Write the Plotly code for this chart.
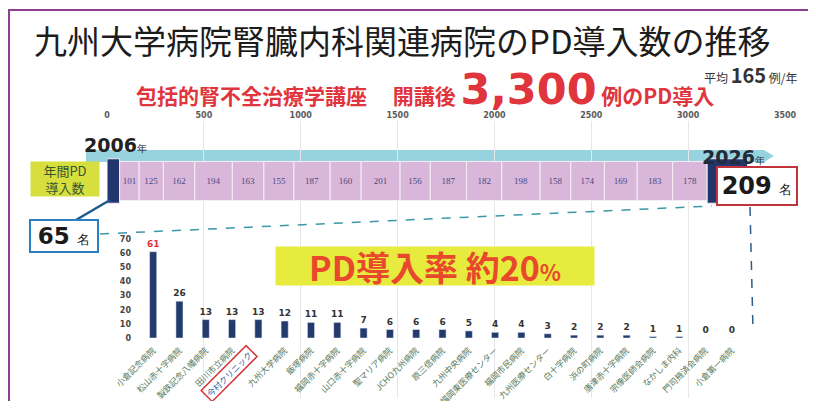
import plotly.graph_objects as go
import numpy as np

# page body has an 8px margin, so the figure is drawn 16px smaller and offset
W, H = 800, 393
OFF = 8
FONT = "Noto Sans CJK JP"

# ---------------- data ----------------
annual_pd = [65, 101, 125, 162, 194, 163, 155, 187, 160, 201, 156, 187, 182, 198, 158, 174, 169, 183, 178, 209]
cum_ticks = [0, 500, 1000, 1500, 2000, 2500, 3000, 3500]

hospitals = ["小倉記念病院", "松山赤十字病院", "製鉄記念八幡病院", "田川市立病院", "今村クリニック",
             "九州大学病院", "飯塚病院", "福岡赤十字病院", "山口赤十字病院", "聖マリア病院",
             "JCHO九州病院", "原三信病院", "九州中央病院", "福岡東医療センター", "福岡市民病院",
             "九州医療センター", "白十字病院", "浜の町病院", "唐津赤十字病院", "宗像医師会病院",
             "なかしま内科", "門司掖済会病院", "小倉第一病院"]
hospital_pd = [61, 26, 13, 13, 13, 12, 11, 11, 7, 6, 6, 6, 5, 4, 4, 3, 2, 2, 2, 1, 1, 0, 0]
hosp_ticks = [0, 10, 20, 30, 40, 50, 60, 70]


def px(x):
    return (x - OFF) / W


def py(y):
    return 1 - (y - OFF) / H


fig = go.Figure()

# --- cumulative horizontal stacked bar ---
bases = list(np.cumsum([0] + annual_pd[:-1]))
n = len(annual_pd)
colors = ["#22366e"] + ["#d9b7da"] * (n - 2) + ["#22366e"]
texts = [""] + [str(v) for v in annual_pd[1:-1]] + [""]
widths = [1.14] + [1.0] * (n - 2) + [1.14]
fig.add_trace(go.Bar(
    x=annual_pd, y=[0] * n, base=bases, orientation="h",
    width=widths,
    marker=dict(color=colors, line=dict(color="#f4eef6", width=1)),
    text=texts, textposition="inside", insidetextanchor="middle",
    textangle=0, constraintext="none",
    textfont=dict(size=9, color="#4a4a7c", family="Liberation Serif"),
    hoverinfo="skip", showlegend=False, xaxis="x", yaxis="y",
))

# --- hospital bar chart ---
txtcol = ["#d9363e"] + ["#333333"] * (len(hospital_pd) - 1)
fig.add_trace(go.Bar(
    x=list(range(len(hospitals))), y=hospital_pd, width=0.27,
    marker=dict(color="#233a6c"),
    text=[str(v) for v in hospital_pd], textposition="outside",
    textangle=0, constraintext="none",
    textfont=dict(size=9, color=txtcol, family="DejaVu Sans", weight="bold"),
    cliponaxis=False, hoverinfo="skip", showlegend=False,
    xaxis="x2", yaxis="y2",
))

ticktext = [h if h != "今村クリニック" else " " for h in hospitals]

fig.update_layout(
    width=W, height=H,
    margin=dict(l=0, r=0, t=0, b=0, autoexpand=False),
    paper_bgcolor="white", plot_bgcolor="rgba(0,0,0,0)",
    barmode="overlay",
    font=dict(family=FONT),
    xaxis=dict(domain=[px(107), px(785)], range=[0, 3500], side="top",
               tickvals=cum_ticks, ticktext=[str(t) for t in cum_ticks],
               tickfont=dict(size=8, color="#5a5a5a", family="DejaVu Sans", weight="bold"),
               showgrid=True, gridcolor="#e6e6e6", gridwidth=1, zeroline=False,
               showline=False, ticks="", anchor="y", automargin=False),
    yaxis=dict(domain=[py(398), py(121)], range=[-5.564, 1.538], visible=False,
               anchor="x", automargin=False),
    xaxis2=dict(domain=[px(140), px(745)], range=[-0.5, len(hospitals) - 0.5],
                tickvals=list(range(len(hospitals))), ticktext=ticktext,
                tickangle=-45, ticklabelstandoff=5,
                tickfont=dict(size=8.5, color="#56785a", family=FONT),
                showgrid=False, zeroline=False, showline=False, ticks="", anchor="y2",
                automargin=False),
    yaxis2=dict(domain=[py(338), py(239)], range=[0, 70],
                tickvals=hosp_ticks, ticklabelstandoff=8,
                tickfont=dict(size=8, color="#444444", family="DejaVu Sans", weight="bold"),
                showgrid=False, zeroline=False, showline=False, ticks="", anchor="x2",
                automargin=False),
)

shapes = []
# slide frame
shapes.append(dict(type="rect", xref="paper", yref="paper",
                   x0=px(9), y0=py(440), x1=px(840), y1=py(10),
                   line=dict(color="#8e3f8f", width=2), layer="below"))
# timeline arrow band
shapes.append(dict(type="path", xref="paper", yref="paper",
                   path=f"M {px(86)} {py(150)} L {px(764)} {py(150)} L {px(774)} {py(156)} "
                        f"L {px(764)} {py(162)} L {px(86)} {py(162)} Z",
                   fillcolor="#97d3df", line=dict(width=0), layer="below"))
# connector from first block to 65 box
shapes.append(dict(type="line", xref="paper", yref="paper",
                   x0=px(110), y0=py(200), x1=px(76), y1=py(220),
                   line=dict(color="#1e5a8a", width=2.5)))
# dashed zoom lines
shapes.append(dict(type="line", xref="paper", yref="paper",
                   x0=px(100), y0=py(234), x1=px(712), y1=py(206),
                   line=dict(color="#3b98a6", width=1.5, dash="dash")))
shapes.append(dict(type="line", xref="paper", yref="paper",
                   x0=px(750), y0=py(207), x1=px(753), y1=py(330),
                   line=dict(color="#2d5d88", width=1.5, dash="dash")))
fig.update_layout(shapes=shapes)

ann = []
# title
ann.append(dict(xref="paper", yref="paper", x=px(402), y=py(40), xanchor="center", yanchor="middle",
                text="九州大学病院腎臓内科関連病院のPD導入数の推移", showarrow=False,
                font=dict(size=33, color="#1c1c1c", family=FONT)))
# average
ann.append(dict(xref="paper", yref="paper", x=px(800), y=py(74), xanchor="right", yanchor="middle",
                text="平均 <b><span style='font-size:20px'>165</span></b> 例/年", showarrow=False,
                font=dict(size=12, color="#333333", family=FONT)))
# red subtitle
ann.append(dict(xref="paper", yref="paper", x=px(425), y=py(89), xanchor="center", yanchor="middle",
                text="<b>包括的腎不全治療学講座 　開講後 <span style='font-size:43px;font-family:DejaVu Sans'>3,300</span> 例のPD導入</b>",
                showarrow=False, font=dict(size=21, color="#e0353d", family=FONT)))
# year labels
ann.append(dict(xref="paper", yref="paper", x=px(82), y=py(145), xanchor="left", yanchor="middle",
                text="<b>2006</b><span style='font-size:10px'>年</span>", showarrow=False,
                font=dict(size=19, color="#222222", family="DejaVu Sans")))
ann.append(dict(xref="paper", yref="paper", x=px(700), y=py(157), xanchor="left", yanchor="middle",
                text="<b>2026</b><span style='font-size:10px'>年</span>", showarrow=False,
                font=dict(size=19, color="#222a3a", family="DejaVu Sans")))
# annual PD label box
ann.append(dict(xref="paper", yref="paper", x=px(65), y=py(179), xanchor="center", yanchor="middle",
                text="年間PD<br>導入数", showarrow=False, width=68, height=34,
                bgcolor="#d6df3e", borderpad=0, align="center",
                font=dict(size=13, color="#3a5430", family=FONT)))
# 65 box
ann.append(dict(xref="paper", yref="paper", x=px(64), y=py(236), xanchor="center", yanchor="middle",
                text="<b>65</b> <span style='font-size:13px'>名</span>", showarrow=False,
                width=66, height=30, bgcolor="white", bordercolor="#2b7fc0", borderwidth=2, borderpad=0,
                font=dict(size=23, color="#1a1a1a", family="DejaVu Sans")))
# 209 box
ann.append(dict(xref="paper", yref="paper", x=px(757), y=py(186), xanchor="center", yanchor="middle",
                text="<b>209</b> <span style='font-size:13px'>名</span>", showarrow=False,
                width=78, height=36, bgcolor="white", bordercolor="#c2333b", borderwidth=2, borderpad=0,
                font=dict(size=24, color="#1a1a1a", family="DejaVu Sans")))
# PD rate box
ann.append(dict(xref="paper", yref="paper", x=px(435), y=py(266), xanchor="center", yanchor="middle",
                text="<b>PD導入率 約20<span style='font-size:22px'>%</span></b>", showarrow=False,
                width=318, height=38, bgcolor="#e7eb3e", borderpad=0,
                font=dict(size=34, color="#e8492c", family=FONT)))
# highlighted hospital label
ann.append(dict(xref="x2", yref="paper", x=4, y=py(345), xanchor="right", yanchor="top",
                text="今村クリニック", showarrow=False, textangle=-45,
                bordercolor="#d8353b", borderwidth=1.5, borderpad=1,
                font=dict(size=8.5, color="#3a5ca8", family=FONT)))
fig.update_layout(annotations=ann)

fig.write_html("out.html")
